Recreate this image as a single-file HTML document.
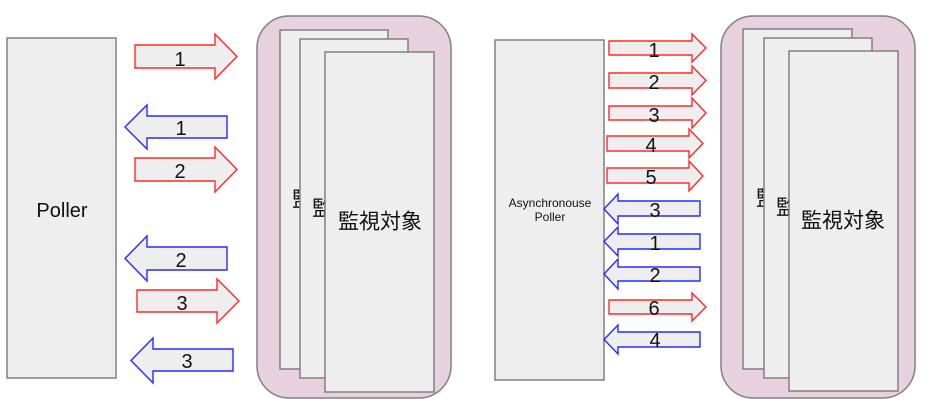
<!DOCTYPE html>
<html><head><meta charset="utf-8"><style>
html,body{margin:0;padding:0;background:#fff;}
svg{display:block;}
text{font-family:"Liberation Sans","Noto Sans CJK JP",sans-serif;fill:#111;}
.cj{font-family:"Liberation Sans","Noto Sans CJK JP",sans-serif;}
</style></head><body>
<svg width="929" height="408" viewBox="0 0 929 408" xmlns="http://www.w3.org/2000/svg">
<g stroke="#808080" stroke-width="1.5" fill="#eeeeee">
  <!-- Left panel -->
  <rect x="7" y="38" width="109" height="340"/>
  <rect x="257" y="16" width="194" height="382" rx="32" ry="32" fill="#e8d1de"/>
  <rect x="280" y="30" width="108" height="339"/>
</g>
<text x="334" y="200" font-size="21" text-anchor="middle" dominant-baseline="central" class="cj">監視対象</text>
<rect x="300" y="39" width="108" height="339" stroke="#808080" stroke-width="1.5" fill="#eeeeee"/>
<text x="354" y="209" font-size="21" text-anchor="middle" dominant-baseline="central" class="cj">監視対象</text>
<rect x="325" y="52" width="109" height="340" stroke="#808080" stroke-width="1.5" fill="#eeeeee"/>
<text x="380" y="222" font-size="21" text-anchor="middle" dominant-baseline="central" class="cj">監視対象</text>

<!-- Right panel -->
<g stroke="#808080" stroke-width="1.5" fill="#eeeeee">
  <rect x="495" y="40" width="109" height="340"/>
  <rect x="721" y="16" width="194" height="382" rx="32" ry="32" fill="#e8d1de"/>
  <rect x="743" y="29" width="109" height="340"/>
</g>
<text x="798" y="199" font-size="21" text-anchor="middle" dominant-baseline="central" class="cj">監視対象</text>
<rect x="764" y="38" width="108" height="340" stroke="#808080" stroke-width="1.5" fill="#eeeeee"/>
<text x="818" y="208" font-size="21" text-anchor="middle" dominant-baseline="central" class="cj">監視対象</text>
<rect x="789" y="51" width="109" height="340" stroke="#808080" stroke-width="1.5" fill="#eeeeee"/>
<text x="843" y="221" font-size="21" text-anchor="middle" dominant-baseline="central" class="cj">監視対象</text>

<text x="62" y="217" font-size="20" text-anchor="middle">Poller</text>
<text x="550" y="207" font-size="12" text-anchor="middle">Asynchronouse</text>
<text x="550" y="221" font-size="12" text-anchor="middle">Poller</text>

<!-- Left arrows -->
<g fill="#eeeeee" stroke-width="1.4" stroke-linejoin="miter">
  <polygon stroke="#ff2a2a" points="135,45 215,45 215,34 237,56.5 215,79 215,68 135,68"/>
  <polygon stroke="#2a2aff" points="227,116 147,116 147,105 125,127 147,149 147,138 227,138"/>
  <polygon stroke="#ff2a2a" points="135,158 215,158 215,147 237,169.5 215,192 215,181 135,181"/>
  <polygon stroke="#2a2aff" points="227,247 147,247 147,236 125,258.5 147,281 147,270 227,270"/>
  <polygon stroke="#ff2a2a" points="137,290 217,290 217,279 239,301 217,323 217,312 137,312"/>
  <polygon stroke="#2a2aff" points="233,349 153,349 153,338 131,360.5 153,383 153,371 233,371"/>
</g>
<g font-size="20" text-anchor="middle">
  <text x="180" y="66">1</text>
  <text x="181" y="135">1</text>
  <text x="180" y="178">2</text>
  <text x="181" y="267">2</text>
  <text x="182" y="310">3</text>
  <text x="187" y="368">3</text>
</g>

<!-- Right arrows -->
<g fill="#eeeeee" stroke-width="1.4" stroke-linejoin="miter">
  <polygon stroke="#ff2a2a" points="609,41 692,41 692,34 706,48 692,62 692,55 609,55"/>
  <polygon stroke="#ff2a2a" points="609,73 692,73 692,66 706,80.5 692,95 692,88 609,88"/>
  <polygon stroke="#ff2a2a" points="609,106 692,106 692,98 706,113 692,128 692,120 609,120"/>
  <polygon stroke="#ff2a2a" points="607,136 689,136 689,129 703,143.5 689,158 689,151 607,151"/>
  <polygon stroke="#ff2a2a" points="607,168 689,168 689,161 703,176 689,191 689,183 607,183"/>
  <polygon stroke="#2a2aff" points="700,201 618,201 618,194 604,209 618,224 618,216 700,216"/>
  <polygon stroke="#2a2aff" points="700,234 618,234 618,227 604,241.5 618,256 618,249 700,249"/>
  <polygon stroke="#2a2aff" points="700,267 618,267 618,259 604,274 618,289 618,281 700,281"/>
  <polygon stroke="#ff2a2a" points="609,300 692,300 692,293 706,307 692,321 692,314 609,314"/>
  <polygon stroke="#2a2aff" points="700,332 618,332 618,325 604,339.5 618,354 618,347 700,347"/>
</g>
<g font-size="20" text-anchor="middle">
  <text x="654" y="57">1</text>
  <text x="654" y="89">2</text>
  <text x="654" y="122">3</text>
  <text x="651" y="152">4</text>
  <text x="651" y="184">5</text>
  <text x="655" y="217">3</text>
  <text x="655" y="250">1</text>
  <text x="655" y="282">2</text>
  <text x="654" y="315">6</text>
  <text x="655" y="347">4</text>
</g>
</svg>
</body></html>
